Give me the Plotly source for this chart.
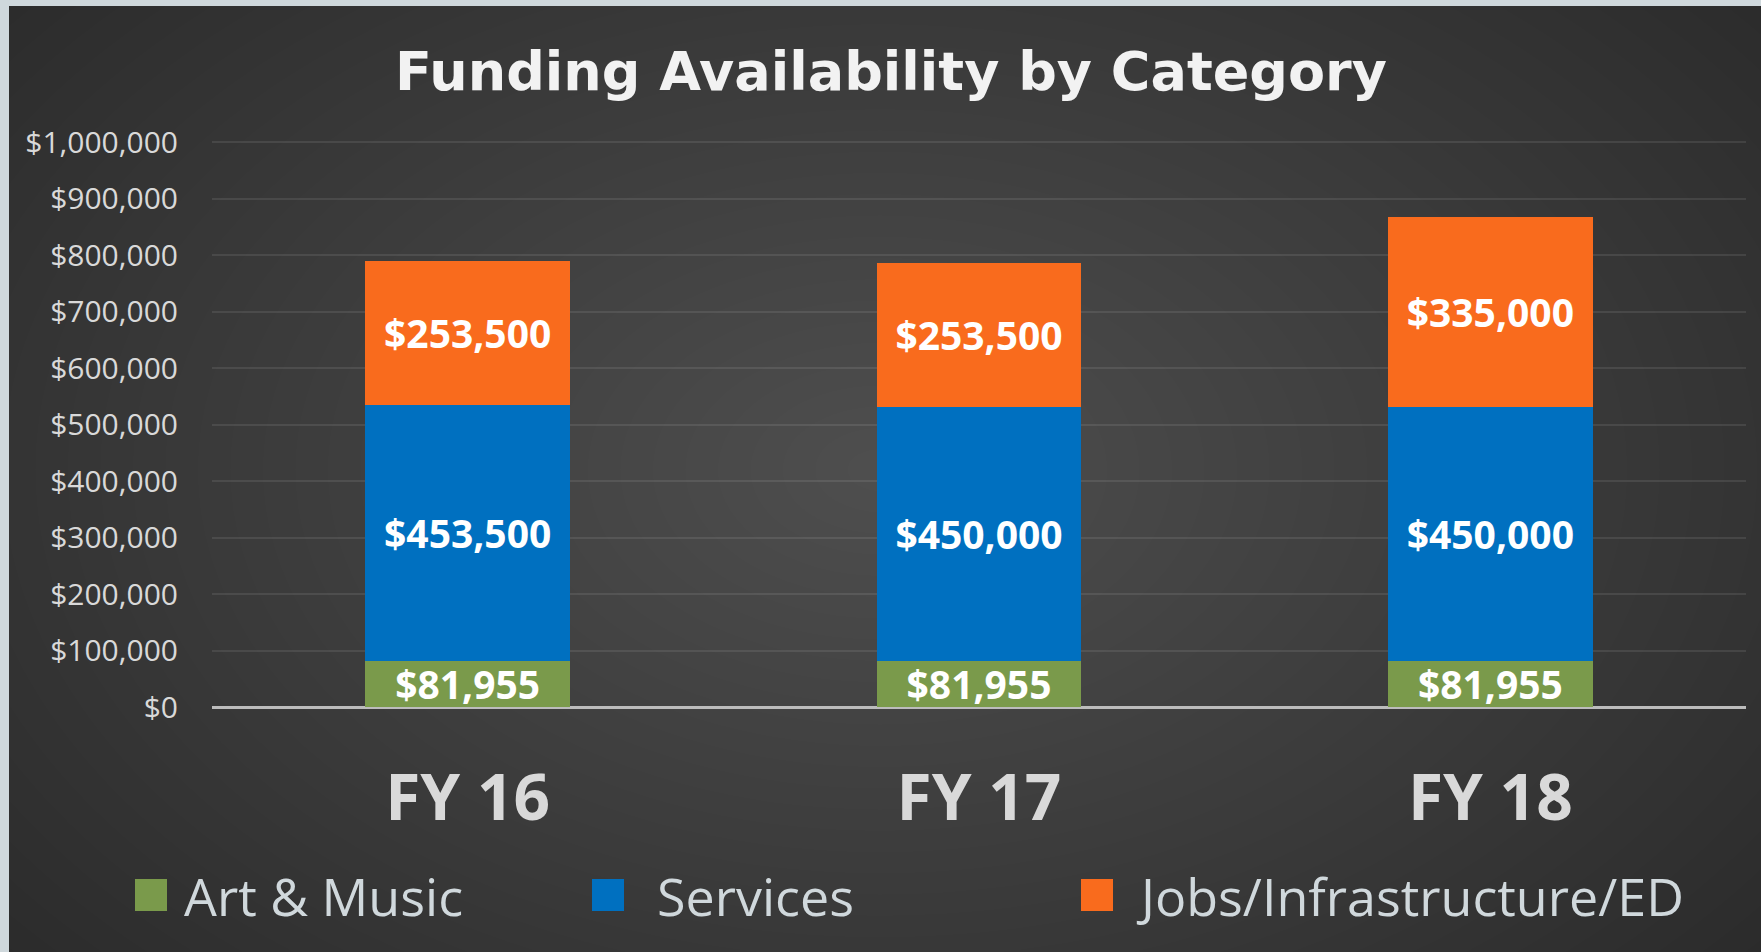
import plotly.graph_objects as go

# ---------------- data ----------------
categories = ["FY 16", "FY 17", "FY 18"]
series_names = ["Art & Music", "Services", "Jobs/Infrastructure/ED"]
art_music = [81955, 81955, 81955]
services = [453500, 450000, 450000]
jobs = [253500, 253500, 335000]
y_tick_values = [0, 100000, 200000, 300000, 400000, 500000,
                 600000, 700000, 800000, 900000, 1000000]
y_tick_labels = ["${:,}".format(v) for v in y_tick_values]
title_text = "Funding Availability by Category"

# ---------------- styling ----------------
series_colors = ["#7A9A4B", "#0070C0", "#F96B1D"]
W, H = 1761, 952
L, R, T, B = 212, 15, 141, 245
PW = W - L - R
PH = H - T - B
Y_MAX = 1002000


def px_x(p):
    return (p - L) / PW


def px_y(p):
    return (H - B - p) / PH


fig = go.Figure()
for name, vals, col in zip(series_names, [art_music, services, jobs], series_colors):
    fig.add_trace(go.Bar(
        x=categories, y=vals, name=name,
        marker=dict(color=col, line=dict(width=0)),
        texttemplate="<b>$%{y:,.0f}</b>",
        textposition="inside",
        insidetextanchor="middle",
        constraintext="none",
        textfont=dict(family="Open Sans", size=39, color="#ffffff"),
        showlegend=False,
    ))

shapes = []
# dark panel (light border shows at top and left)
shapes.append(dict(type="rect", xref="paper", yref="paper",
                   x0=px_x(9), x1=px_x(W + 5), y0=px_y(6), y1=px_y(H + 5),
                   fillcolor="#262626", line=dict(width=0), layer="below"))
# radial gradient via stacked ellipses
N = 40
cx, cy, rx, ry = 880, 470, 1300, 850
for k in range(N, 0, -1):
    f = k / N
    shapes.append(dict(type="circle", xref="paper", yref="paper",
                       x0=px_x(cx - rx * f), x1=px_x(cx + rx * f),
                       y0=px_y(cy + ry * f), y1=px_y(cy - ry * f),
                       fillcolor="rgba(255,255,255,0.007)",
                       line=dict(width=0), layer="below"))

# manual legend
sw_x = [135, 592, 1081]
lab_x = [182, 655, 1134]
leg_y = 895
sw = 32
annotations = []
for name, col, sx, lx in zip(series_names, series_colors, sw_x, lab_x):
    shapes.append(dict(type="rect", xref="paper", yref="paper",
                       x0=px_x(sx), x1=px_x(sx + sw),
                       y0=px_y(leg_y + sw / 2), y1=px_y(leg_y - sw / 2),
                       fillcolor=col, line=dict(width=0), layer="above"))
    annotations.append(dict(xref="paper", yref="paper", x=px_x(lx), y=px_y(leg_y),
                            xanchor="left", yanchor="middle", showarrow=False,
                            text=name,
                            font=dict(family="Open Sans", size=52, color="#d0d8dc")))

fig.update_layout(
    width=W, height=H,
    margin=dict(l=L, r=R, t=T, b=B, pad=0),
    paper_bgcolor="#cfd8dc",
    plot_bgcolor="rgba(0,0,0,0)",
    barmode="stack",
    bargap=0.6,
    title=dict(text="<b>" + title_text + "</b>", xref="container", yref="container",
               x=891 / W, y=1 - 71 / H, xanchor="center", yanchor="middle",
               font=dict(family="DejaVu Sans", size=54, color="#f2f2f2")),
    xaxis=dict(showgrid=False, showline=False, zeroline=False, ticks="",
               tickfont=dict(family="Open Sans", size=64, color="#d9d9d9", weight="bold"),
               ticklabelstandoff=48),
    yaxis=dict(range=[0, Y_MAX], tickmode="array", tickvals=y_tick_values,
               ticktext=y_tick_labels,
               showgrid=True, gridcolor="rgba(255,255,255,0.09)",
               gridwidth=2, zeroline=True, zerolinecolor="#bcbcbc", zerolinewidth=3,
               showline=False, ticks="",
               tickfont=dict(family="Open Sans", size=30, color="#d9d9d9"),
               ticklabelstandoff=33),
    shapes=shapes,
    annotations=annotations,
    font=dict(family="Open Sans"),
)

fig.write_html("out.html", config={"displayModeBar": False},
               post_script="document.body.style.margin='0';document.body.style.overflow='hidden';")
